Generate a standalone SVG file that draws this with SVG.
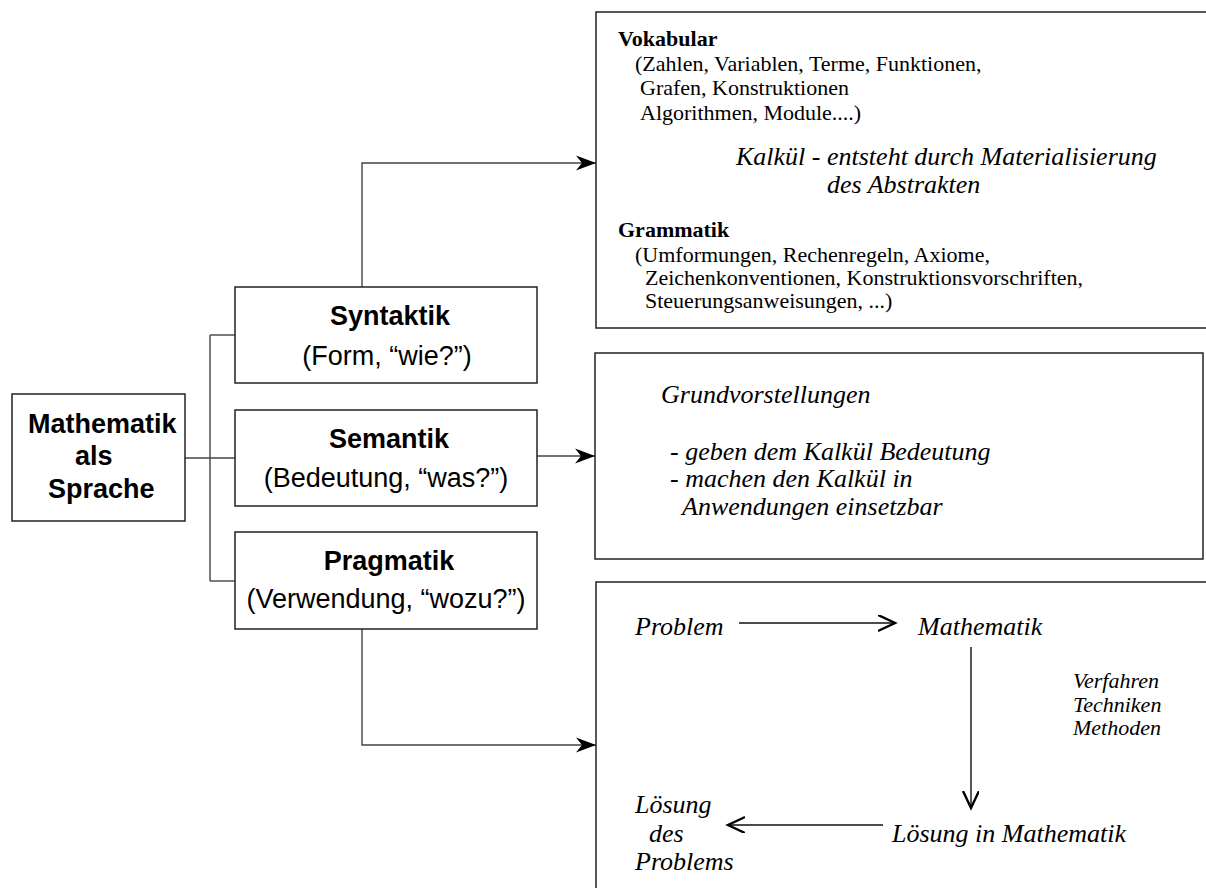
<svg xmlns="http://www.w3.org/2000/svg" width="1206" height="888" viewBox="0 0 1206 888">
<defs>
<style>
.box{fill:#fff;stroke:#222;stroke-width:1.5}
.conn{fill:none;stroke:#444;stroke-width:1.4}
.inner{fill:none;stroke:#111;stroke-width:1.4}
.sans{font-family:"Liberation Sans",Arial,sans-serif;font-size:27px;fill:#000}
.sb{font-weight:bold}
.serif{font-family:"Liberation Serif","Times New Roman",serif;font-size:22px;fill:#000}
.it{font-style:italic;font-size:26px}
.its{font-style:italic;font-size:22px}
.b{font-weight:bold}
</style>
<marker id="big" markerUnits="userSpaceOnUse" markerWidth="22" markerHeight="18" refX="20" refY="8" orient="auto">
<path d="M0,0.5 L20,8 L0,15.5 L6,8 Z" fill="#000"/>
</marker>
<marker id="chev" markerUnits="userSpaceOnUse" markerWidth="20" markerHeight="20" refX="17" refY="8" orient="auto">
<path d="M0,0 L17,8 L0,16" fill="none" stroke="#000" stroke-width="2.4"/>
</marker>
</defs>

<g id="connectors">
<path class="conn" d="M210,335 V581"/>
<path class="conn" d="M185,458 H235"/>
<path class="conn" d="M210,335 H235"/>
<path class="conn" d="M210,581 H235"/>
<path class="conn" d="M362,287 V163 H596" marker-end="url(#big)"/>
<path class="conn" d="M537,456 H595" marker-end="url(#big)"/>
<path class="conn" d="M362,629 V745 H596" marker-end="url(#big)"/>
</g>

<g id="main">
<rect class="box" x="12" y="394" width="173" height="127"/>
<text class="sans sb" x="28" y="433">Mathematik</text>
<text class="sans sb" x="75" y="465">als</text>
<text class="sans sb" x="48" y="498">Sprache</text>
</g>

<g id="syntaktik">
<rect class="box" x="235" y="287" width="302" height="96"/>
<text class="sans sb" x="390" y="325" text-anchor="middle">Syntaktik</text>
<text class="sans" x="387" y="365" text-anchor="middle">(Form, “wie?”)</text>
</g>

<g id="semantik">
<rect class="box" x="235" y="410" width="302" height="96"/>
<text class="sans sb" x="389" y="448" text-anchor="middle">Semantik</text>
<text class="sans" x="386" y="487" text-anchor="middle">(Bedeutung, “was?”)</text>
</g>

<g id="pragmatik">
<rect class="box" x="235" y="532" width="302" height="97"/>
<text class="sans sb" x="389" y="570" text-anchor="middle">Pragmatik</text>
<text class="sans" x="386" y="608" text-anchor="middle">(Verwendung, “wozu?”)</text>
</g>

<g id="kalkuel">
<rect class="box" x="596" y="12" width="620" height="316"/>
<text class="serif b" x="618" y="46">Vokabular</text>
<text class="serif" x="635" y="71">(Zahlen, Variablen, Terme, Funktionen,</text>
<text class="serif" x="640" y="95">Grafen, Konstruktionen</text>
<text class="serif" x="640" y="120">Algorithmen, Module....)</text>
<text class="serif it" x="736" y="165">Kalkül - entsteht durch Materialisierung</text>
<text class="serif it" x="827" y="193">des Abstrakten</text>
<text class="serif b" x="618" y="237">Grammatik</text>
<text class="serif" x="635" y="262">(Umformungen, Rechenregeln, Axiome,</text>
<text class="serif" x="645" y="285">Zeichenkonventionen, Konstruktionsvorschriften,</text>
<text class="serif" x="645" y="308">Steuerungsanweisungen, ...)</text>
</g>

<g id="grundvorstellungen">
<rect class="box" x="595" y="353" width="608" height="206"/>
<text class="serif it" x="661" y="403">Grundvorstellungen</text>
<text class="serif it" x="670" y="460">- geben dem Kalkül Bedeutung</text>
<text class="serif it" x="670" y="487">- machen den Kalkül in</text>
<text class="serif it" x="682" y="515">Anwendungen einsetzbar</text>
</g>

<g id="anwendung">
<rect class="box" x="596" y="582" width="620" height="320"/>
<text class="serif it" x="635" y="635">Problem</text>
<text class="serif it" x="918" y="635">Mathematik</text>
<text class="serif its" x="1073" y="688">Verfahren</text>
<text class="serif its" x="1073" y="712">Techniken</text>
<text class="serif its" x="1073" y="735">Methoden</text>
<text class="serif it" x="892" y="842">Lösung in Mathematik</text>
<text class="serif it" x="635" y="813">Lösung</text>
<text class="serif it" x="649" y="842">des</text>
<text class="serif it" x="635" y="870">Problems</text>
<path class="inner" d="M739,623 H895" marker-end="url(#chev)"/>
<path class="inner" d="M971,647 V808" marker-end="url(#chev)"/>
<path class="inner" d="M883,825 H728" marker-end="url(#chev)"/>
</g>
</svg>
